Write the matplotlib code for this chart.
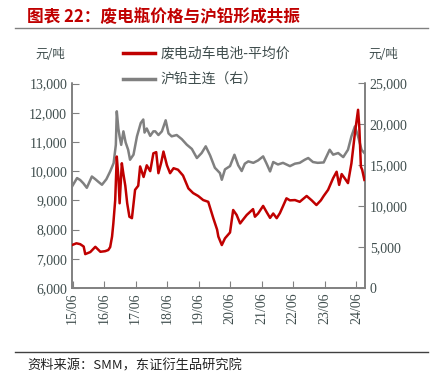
import matplotlib
matplotlib.use('Agg')
from matplotlib import pyplot as plt
from matplotlib.lines import Line2D

plt.rcParams['font.family'] = ['Liberation Serif', 'Noto Sans CJK SC']

# 废电动车电池-平均价 (left axis), x in decimal years
battery_t = [2015.40, 2015.54, 2015.66, 2015.77, 2015.82, 2015.98, 2016.14, 2016.30, 2016.45,
             2016.55, 2016.61, 2016.67, 2016.71, 2016.77, 2016.82, 2016.87, 2016.91, 2016.98,
             2017.03, 2017.09, 2017.15, 2017.22, 2017.30, 2017.40, 2017.50, 2017.56, 2017.67,
             2017.77, 2017.88, 2017.98, 2018.07, 2018.14, 2018.23, 2018.30, 2018.41, 2018.51,
             2018.62, 2018.76, 2018.92, 2019.09, 2019.24, 2019.40, 2019.56, 2019.72, 2019.88,
             2020.00, 2020.04, 2020.15, 2020.25, 2020.41, 2020.51, 2020.62, 2020.73, 2020.83,
             2020.94, 2021.04, 2021.14, 2021.20, 2021.30, 2021.46, 2021.57, 2021.68, 2021.78,
             2021.89, 2021.99, 2022.09, 2022.20, 2022.31, 2022.47, 2022.62, 2022.84, 2023.00,
             2023.15, 2023.29, 2023.38, 2023.52, 2023.68, 2023.79, 2023.87, 2023.95, 2024.05,
             2024.15, 2024.26, 2024.37, 2024.47, 2024.51, 2024.56, 2024.60, 2024.67]
battery_v = [7470, 7530, 7500, 7420, 7160, 7230, 7410, 7240, 7260,
             7300, 7400, 7760, 8200, 9010, 10500, 9800, 8900, 10270,
             9900, 9500, 8900, 8440, 8390, 9360, 9500, 10160, 9800,
             10200, 10000, 10610, 10650, 9930, 10300, 10670, 10200, 9930,
             10100, 10050, 9850, 9410, 9250, 9150, 9010, 8950, 8390,
             8000, 7760, 7470, 7700, 7900, 8670, 8500, 8210, 8350,
             8500, 8600, 8700, 8440, 8550, 8810, 8600, 8400, 8550,
             8390, 8560, 8800, 9070, 9000, 9010, 8950, 9150, 9000,
             8840, 9000, 9150, 9360, 9760, 9980, 9530, 9900, 9750,
             9590, 10270, 11300, 12100, 11500, 10150, 10050, 9700]

# 沪铅主连 (right axis)
lead_t = [2015.40, 2015.56, 2015.66, 2015.76, 2015.87, 2016.03, 2016.14, 2016.23, 2016.35,
          2016.49, 2016.61, 2016.72, 2016.79, 2016.82, 2016.87, 2016.91, 2016.96, 2017.03,
          2017.10, 2017.18, 2017.24, 2017.35, 2017.46, 2017.58, 2017.66, 2017.70, 2017.77,
          2017.88, 2017.98, 2018.04, 2018.14, 2018.25, 2018.37, 2018.46, 2018.56, 2018.72,
          2018.88, 2019.04, 2019.20, 2019.36, 2019.51, 2019.64, 2019.78, 2019.93, 2020.09,
          2020.15, 2020.25, 2020.41, 2020.55, 2020.67, 2020.78, 2020.88, 2020.99, 2021.15,
          2021.30, 2021.46, 2021.57, 2021.68, 2021.78, 2021.93, 2022.09, 2022.31, 2022.47,
          2022.62, 2022.78, 2022.89, 2023.04, 2023.19, 2023.38, 2023.57, 2023.68, 2023.84,
          2024.00, 2024.15, 2024.26, 2024.37, 2024.47, 2024.58, 2024.67]
lead_v = [12400, 13440, 13200, 12800, 12250, 13630, 13300, 13000, 12620,
          13300, 14250, 15270, 17500, 21600, 19500, 18500, 17500, 19150,
          17800, 16900, 15680, 16300, 18540, 20170, 20600, 19000, 19500,
          18600, 19150, 19150, 18700, 19150, 20500, 18900, 18540, 18700,
          18200, 17520, 17000, 15890, 16500, 17320, 16200, 14700, 14050,
          13230, 14500, 14900, 16290, 15000, 14300, 15200, 15480, 15300,
          15600, 16090, 15200, 14250, 15400, 15100, 15300, 14900, 15200,
          15300, 15680, 15890, 15400, 15300, 15350, 16900, 16300, 16500,
          16000, 16900, 18540, 19760, 18540, 16900, 16500]

tick_years = list(range(2015, 2025))

red = '#c00000'
gray = '#808080'
txt = '#3f4d4d'

fig = plt.figure(figsize=(4.39, 3.84), dpi=100)
ax = fig.add_axes([72/439, 1-288/384, (365-72)/439, (288-83.5)/384])
ax2 = ax.twinx()

ax.plot(battery_t, battery_v, color=red, lw=1.8, zorder=3)
ax2.plot(lead_t, lead_v, color=gray, lw=1.8)
ax.set_zorder(ax2.get_zorder() + 1)
ax.patch.set_visible(False)

ax.set_ylim(6000, 13000)
ax2.set_ylim(0, 25000)
ax.set_xlim(2015.40, 2024.69)
ax.set_xticks([y + 5/12 for y in tick_years])
ax.set_xticklabels([f'{y % 100}/06' for y in tick_years], rotation=90)
ax.set_yticks(range(6000, 13001, 1000))
ax.set_yticklabels([f'{v:,}' for v in range(6000, 13001, 1000)])
ax2.set_yticks(range(0, 25001, 5000))
ax2.set_yticklabels([f'{v:,}' for v in range(0, 25001, 5000)])

for a in (ax, ax2):
    a.spines['top'].set_visible(False)
    for s in ('left', 'right', 'bottom'):
        a.spines[s].set_color(gray)
        a.spines[s].set_linewidth(1.2)
    a.tick_params(direction='in', length=5, color=gray, labelcolor=txt, labelsize=10)

fig.text(35/439, 1-55/384, '元/吨', fontsize=9, color=txt, family='Noto Sans CJK SC', va='center')
fig.text(368/439, 1-55/384, '元/吨', fontsize=9, color=txt, family='Noto Sans CJK SC', va='center')

handles = [Line2D([], [], color=red, lw=2.5), Line2D([], [], color=gray, lw=2.5)]
fig.legend(handles, ['废电动车电池-平均价', '沪铅主连（右）'], loc='upper left',
           bbox_to_anchor=(123/439, 1-47/384), frameon=False,
           prop={'family': 'Noto Sans CJK SC', 'size': 10}, labelcolor=txt,
           handlelength=2.3, handletextpad=0.4, labelspacing=0.85, borderpad=0, borderaxespad=0)

fig.text(27/439, 1-17/384, '图表 22：废电瓶价格与沪铅形成共振', fontsize=12, color=red,
         fontweight='bold', family='Noto Sans CJK SC', va='center')
fig.add_artist(Line2D([15/439, 428/439], [1-28/384, 1-28/384], color=gray, lw=1))
fig.add_artist(Line2D([15/439, 428/439], [1-352/384, 1-352/384], color='#404040', lw=1))
fig.text(27/439, 1-366/384, '资料来源：SMM，东证衍生品研究院', fontsize=9.5, color='#222222',
         family=['Noto Sans CJK SC'], va='center')

fig.savefig('out.png', dpi=100)
